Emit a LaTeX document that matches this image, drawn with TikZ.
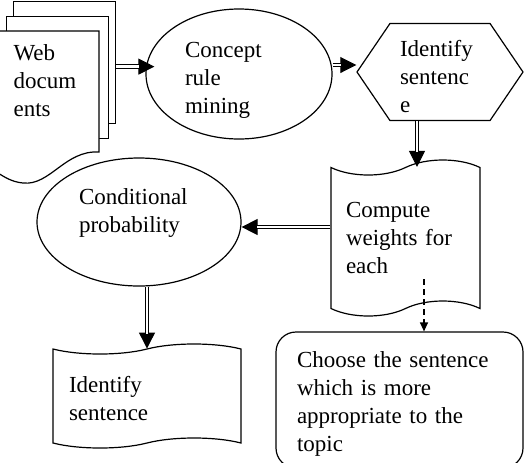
\documentclass[tikz,border=0pt]{standalone}
\usepackage{fontspec}
\setmainfont{Liberation Serif}
\usetikzlibrary{shapes.geometric,shapes.symbols,arrows.meta}

\begin{document}
\begin{tikzpicture}[x=0.5pt, y=-0.5pt, line width=0.6pt,
    font=\fontsize{11.5}{14}\selectfont,
    page_style/.style={draw, fill=white, minimum width=51pt, minimum height=61pt, inner sep=0pt, anchor=north west},
    oval_style/.style={ellipse, draw, inner sep=0pt, align=left},
    tape_style/.style={tape, draw, inner sep=0pt, align=left},
    dbl_arrow/.style={line width=0.5pt, -{Triangle[length=8pt, width=8pt]},
        postaction={draw, arrows=-, double, double distance=1.2pt, shorten >=7.5pt}},
    dash_arrow/.style={dash pattern=on 3pt off 2pt, -{Triangle[length=4.5pt, width=4pt]}}
]
\useasboundingbox (0,0) rectangle (525,462);
% Web documents (stack of pages)
\node[page_style] (page3) at (13,1) {};
\node[page_style] (page2) at (6,16) {};
\draw[fill=white] (-5,31) -- (99,31) -- (99,152) .. controls (65,150) and (50,186) .. (23,183) .. controls (12,182) and (4,177) .. (-5,171) -- cycle;
\node[anchor=north west, align=left, inner sep=0pt] (web) at (13,44) {Web\\docum\\ents};
% main steps
\node[oval_style, minimum width=93pt, minimum height=65pt, text width=54pt] (concept) at (239,74) {\rule{0pt}{14pt}Concept\\rule\\mining};
\node[signal, signal to=west and east, signal pointer angle=111.6, draw, minimum width=83pt, minimum height=48.5pt, inner sep=0pt, text width=40pt, align=left] (ident) at (440,72) {\rule{0pt}{13pt}Identify\\sentenc\\e};
\node[tape_style, minimum width=74.5pt, minimum height=78pt, tape bend height=7.5pt, text width=59.5pt] (compute) at (405.5,238) {Compute\\weights for\\each};
\node[oval_style, minimum width=102pt, minimum height=64pt, text width=60pt] (cond) at (139,222) {Conditional\\probability\rule[-11.5pt]{0pt}{0pt}};
\node[tape_style, minimum width=94pt, minimum height=52pt, tape bend height=5pt, text width=78pt] (ident2) at (147,396) {\rule{0pt}{11pt}Identify\\sentence};
\node[draw, rounded corners=10pt, minimum width=123.5pt, minimum height=68pt, inner sep=0pt, text width=102.5pt, align=left] (choose) at (399.5,400) {\rule{0pt}{12pt}Choose the sentence\\which is more\\appropriate to the\\topic};
% connectors
\draw[dbl_arrow] ([yshift=-2pt]page3.east) -- ([xshift=4.5pt, yshift=-2pt]page3.east -| concept.west);
\draw[dbl_arrow] ([yshift=4.5pt]concept.east) -- ([yshift=4.5pt]concept.east -| ident.west);
\draw[dbl_arrow] ([xshift=-11.5pt]ident.south) -- ([xshift=-11.5pt]ident.south |- compute.north);
\draw[dbl_arrow] ([yshift=5.5pt]compute.west) -- ([yshift=5.5pt]compute.west -| cond.east);
\draw[dbl_arrow] (ident2.north |- cond.south) -- (ident2.north);
\draw[dash_arrow] ([xshift=9.25pt, yshift=15pt]compute.south) -- ([xshift=9.25pt]compute.south |- choose.north);
\end{tikzpicture}
\end{document}
